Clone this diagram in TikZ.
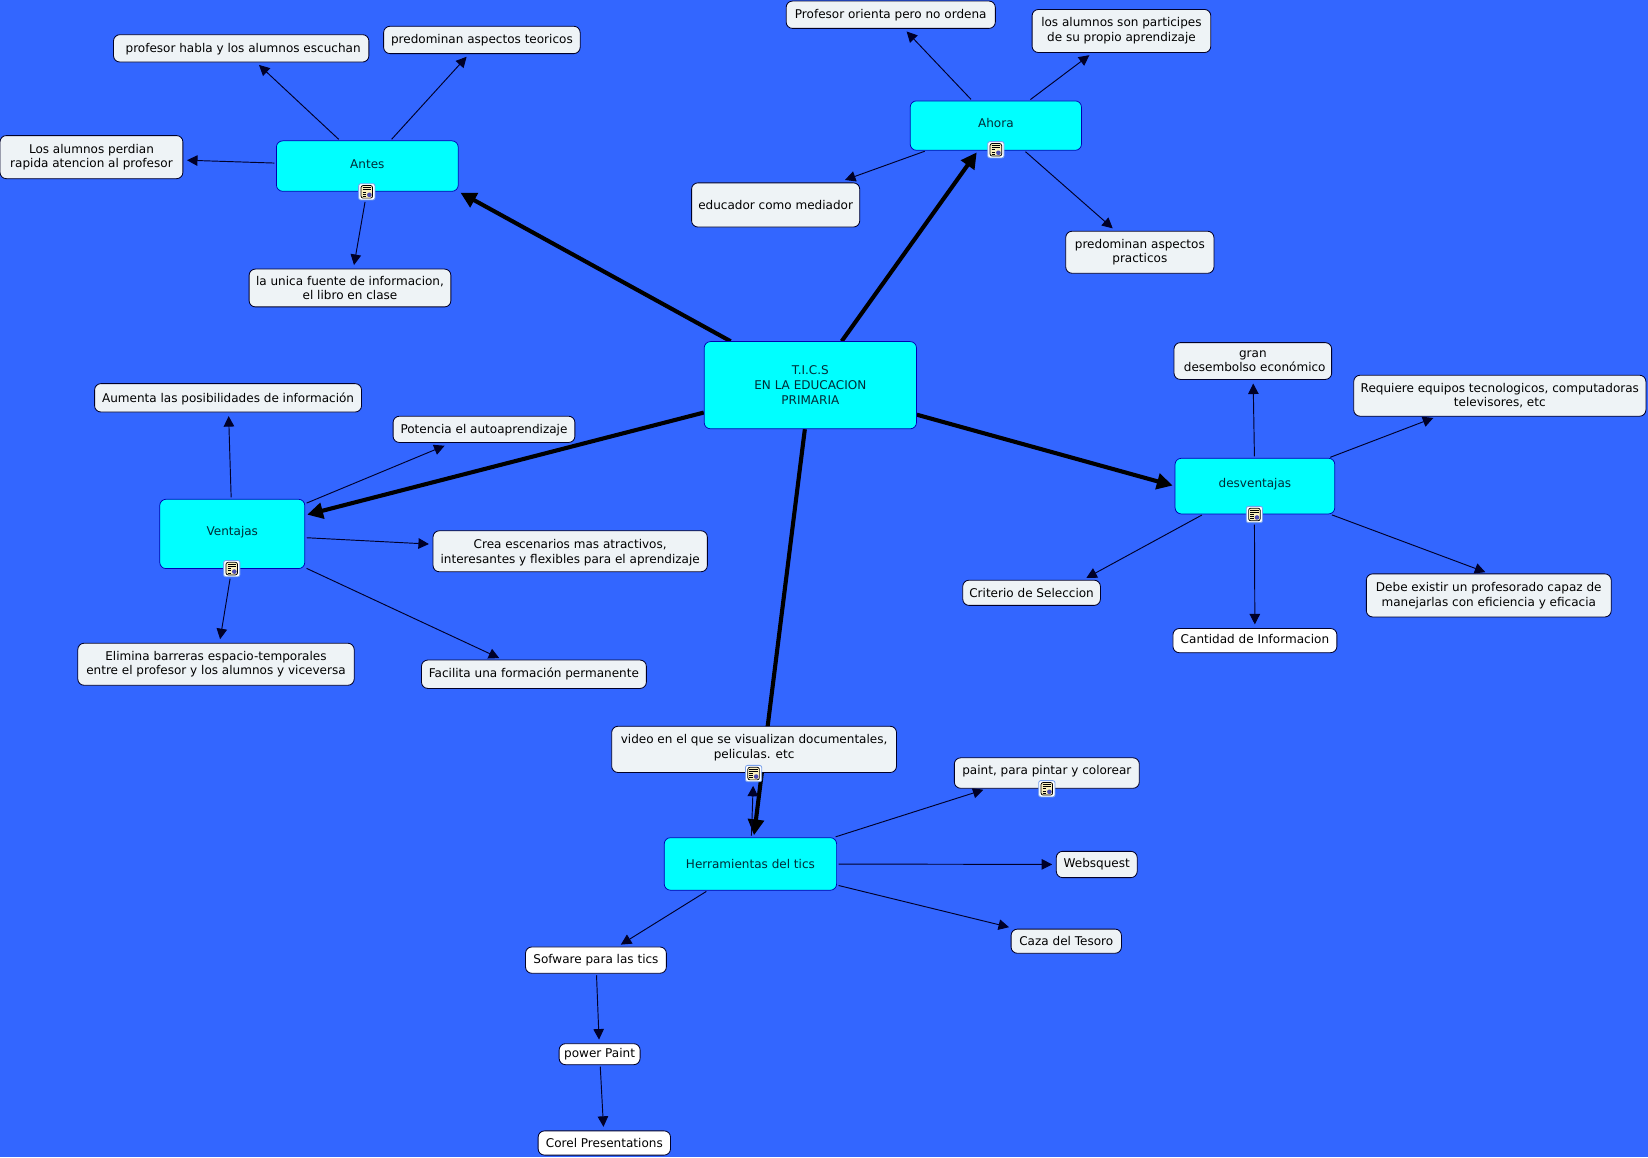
\documentclass[tikz,border=0pt]{standalone}
\usepackage{fontspec}
\setmainfont{DejaVu Sans}
\usepackage{xcolor}
\usetikzlibrary{arrows.meta}
\definecolor{canvasBlue}{RGB}{ 51,102,255}
\definecolor{topicCyan} {RGB}{  0,255,255}
\definecolor{topicText} {RGB}{  0, 45, 55}
\definecolor{noteGrey}  {RGB}{238,243,246}
\definecolor{lineNavy}  {RGB}{  0,  0, 40}
\definecolor{iconCream} {RGB}{250,240,190}
\definecolor{iconEdge}  {RGB}{120,160,235}
\pgfdeclarelayer{links}
\pgfsetlayers{links,main}

\begin{document}
\begin{tikzpicture}[
        x=1pt,y=-1pt,
        every node/.style={font=\fontsize{11.45}{14}\selectfont, align=center, inner sep=0pt},
        topic/.style={draw=blue!70!black, rounded corners=6pt, fill=topicCyan, line width=.7pt, text=topicText},
        note/.style={draw=lineNavy, rounded corners=6pt, fill=noteGrey, line width=.8pt},
        plain/.style={note, fill=white},
        raised/.style={text depth=6pt},
        lowered/.style={text depth=0pt},
        icon/.style={draw=iconEdge, fill=white, rounded corners=2pt, minimum size=15.5pt,
                     line width=.8pt,
                     path picture={
                       \fill[iconCream, draw=black, line width=.7pt]
                         ([shift={(-5.5pt,-6pt)}]path picture bounding box.center) rectangle
                         ([shift={(5.5pt,6pt)}]path picture bounding box.center);
                       \fill[gray!60!blue]
                         ([shift={(.3pt,-5pt)}]path picture bounding box.center) rectangle
                         ([shift={(4.6pt,-.7pt)}]path picture bounding box.center);
                       \foreach \ly in {-4,-2,0}
                         \draw[black, line width=.6pt]
                           ([shift={(-4pt,\ly pt)}]path picture bounding box.center) --
                           ([shift={(-.6pt,\ly pt)}]path picture bounding box.center);
                       \foreach \ly in {2,4}
                         \draw[black, line width=.6pt]
                           ([shift={(-4pt,\ly pt)}]path picture bounding box.center) --
                           ([shift={(4pt,\ly pt)}]path picture bounding box.center);
                     }},
        thin link/.style={-{Triangle[length=10pt,width=10pt]}, line width=.9pt, lineNavy,
                          shorten <=1.5pt, shorten >=3.5pt},
        thick link/.style={-{Triangle[length=15pt,width=15pt]}, line width=3.9pt, black,
                           shorten >=2pt}]
      \useasboundingbox (0,0) rectangle (1568,1101);
      \begin{pgfonlayer}{links}
        \fill[canvasBlue] (0,0) rectangle (1568,1101);
      \end{pgfonlayer}
      % main topics
      \node[topic, minimum width=202pt, minimum height=83pt] (tics) at (771,366.5)
        {T.I.C.S\\EN LA EDUCACION\\PRIMARIA};
      \node[topic, text depth=4pt, minimum width=173pt, minimum height=48pt] (antes) at (349.5,158) {Antes};
      \node[topic, raised, minimum width=163pt, minimum height=47pt] (ahora) at (947.5,119.5) {Ahora};
      \node[topic, raised, minimum width=152pt, minimum height=53pt] (desventajas) at (1194,462.5) {desventajas};
      \node[topic, raised, minimum width=138pt, minimum height=66pt] (ventajas) at (221,508) {Ventajas};
      \node[topic, minimum width=164pt, minimum height=50pt] (herramientas) at (714,822) {Herramientas del tics};
      % antes
      \node[note, lowered, minimum width=243pt, minimum height=26pt] (habla) at (229.5,46) {\ profesor habla y los alumnos escuchan};
      \node[note, minimum width=187pt, minimum height=26pt] (teoricos) at (458.5,38) {predominan aspectos teoricos};
      \node[note, minimum width=174pt, minimum height=41pt] (perdian) at (87,149.5)
        {Los alumnos perdian\\rapida atencion al profesor};
      \node[note, minimum width=192pt, minimum height=36pt] (fuente) at (333,274)
        {la unica fuente de informacion,\\el libro en clase};
      % ahora
      \node[note, minimum width=199pt, minimum height=26pt] (orienta) at (847.5,14) {Profesor orienta pero no ordena};
      \node[note, minimum width=170pt, minimum height=41pt] (participes) at (1067,29.5)
        {los alumnos son participes\\de su propio aprendizaje};
      \node[note, minimum width=160pt, minimum height=42pt] (mediador) at (738,195) {educador como mediador};
      \node[note, minimum width=141pt, minimum height=40pt] (practicos) at (1084.5,240)
        {predominan aspectos\\practicos};
      % desventajas
      \node[note, lowered, minimum width=150pt, minimum height=35pt] (gran) at (1192,343.5)
        {gran\\\ desembolso económico};
      \node[note, minimum width=278pt, minimum height=39pt] (equipos) at (1427,376.5)
        {Requiere equipos tecnologicos, computadoras\\televisores, etc};
      \node[note, minimum width=131pt, minimum height=24pt] (criterio) at (981.5,564) {Criterio de Seleccion};
      \node[plain, text depth=3.6pt, minimum width=156pt, minimum height=23pt] (cantidad) at (1194,609.5) {Cantidad de Informacion};
      \node[note, minimum width=233pt, minimum height=41pt] (capaz) at (1416.5,566.5)
        {Debe existir un profesorado capaz de\\manejarlas con eficiencia y eficacia};
      % ventajas
      \node[note, lowered, minimum width=254pt, minimum height=27pt] (aumenta) at (217,378.5) {Aumenta las posibilidades de información};
      \node[note, lowered, minimum width=173pt, minimum height=25pt] (potencia) at (460.5,408.5) {Potencia el autoaprendizaje};
      \node[note, lowered, minimum width=261pt, minimum height=39pt] (escenarios) at (542.5,524.5)
        {Crea escenarios mas atractivos,\\interesantes y flexibles para el aprendizaje};
      \node[note, minimum width=263pt, minimum height=40pt] (barreras) at (205.5,632)
        {Elimina barreras espacio-temporales\\entre el profesor y los alumnos y viceversa};
      \node[note, minimum width=214pt, minimum height=27pt] (facilita) at (508,641.5) {Facilita una formación permanente};
      % herramientas
      \node[note, raised, minimum width=271pt, minimum height=44pt] (video) at (717.5,713)
        {video en el que se visualizan documentales,\\peliculas. etc};
      \node[note, raised, minimum width=176pt, minimum height=29pt] (paint) at (996,735.5) {paint, para pintar y colorear};
      \node[note, minimum width=77pt, minimum height=25pt] (websquest) at (1043.5,822.5) {Websquest};
      \node[note, minimum width=105pt, minimum height=23pt] (tesoro) at (1014.5,895.5) {Caza del Tesoro};
      \node[plain, minimum width=134pt, minimum height=25pt] (sofware) at (567,913.5) {Sofware para las tics};
      \node[plain, minimum width=77pt, minimum height=20pt] (power) at (570.5,1003) {power Paint};
      \node[plain, minimum width=126pt, minimum height=23pt] (corel) at (575,1087.5) {Corel Presentations};
      % icons
      \node[icon] (iconAntes) at (349,182.5) {};
      \node[icon] (iconAhora) at (947.5,142.5) {};
      \node[icon] (iconDesventajas) at (1193.5,489.5) {};
      \node[icon] (iconVentajas) at (220.5,541) {};
      \node[icon] (iconVideo) at (717,736) {};
      \node[icon] (iconPaint) at (996,750.5) {};
      % links
      \begin{pgfonlayer}{links}
        \draw[thick link] (tics) -- (antes.south east);
        \draw[thick link] (tics) -- (ahora);
        \draw[thick link] (tics) -- (ventajas);
        \draw[thick link] (tics) -- (desventajas.west);
        \draw[thick link] (tics) -- (herramientas);
        \draw[thin link] (antes) -- (habla);
        \draw[thin link] (antes) -- (teoricos);
        \draw[thin link] (antes) -- (perdian);
        \draw[thin link] (iconAntes) -- (fuente);
        \draw[thin link] (ahora) -- (orienta);
        \draw[thin link] (ahora) -- (participes);
        \draw[thin link, shorten >=7pt] (ahora) -- (mediador);
        \draw[thin link] (ahora) -- (practicos);
        \draw[thin link] (desventajas) -- (gran);
        \draw[thin link] (desventajas) -- ([xshift=-60pt]equipos.south);
        \draw[thin link] (desventajas) -- ([xshift=49pt]criterio.north);
        \draw[thin link] (iconDesventajas) -- (cantidad);
        \draw[thin link] (desventajas) -- (capaz.north);
        \draw[thin link] (ventajas) -- (aumenta);
        \draw[thin link, shorten >=7pt] (ventajas) -- (potencia);
        \draw[thin link] (ventajas) -- (escenarios);
        \draw[thin link] (iconVentajas) -- (barreras);
        \draw[thin link] (ventajas) -- (facilita);
        \draw[thin link] (herramientas) -- (iconVideo);
        \draw[thin link] (herramientas) -- ([xshift=-57pt]paint.south);
        \draw[thin link] (herramientas) -- (websquest);
        \draw[thin link, shorten >=6pt] (herramientas) -- (tesoro);
        \draw[thin link] (herramientas) -- (sofware);
        \draw[thin link] (sofware) -- (power);
        \draw[thin link] (power) -- (corel);
      \end{pgfonlayer}
\end{tikzpicture}
\end{document}
